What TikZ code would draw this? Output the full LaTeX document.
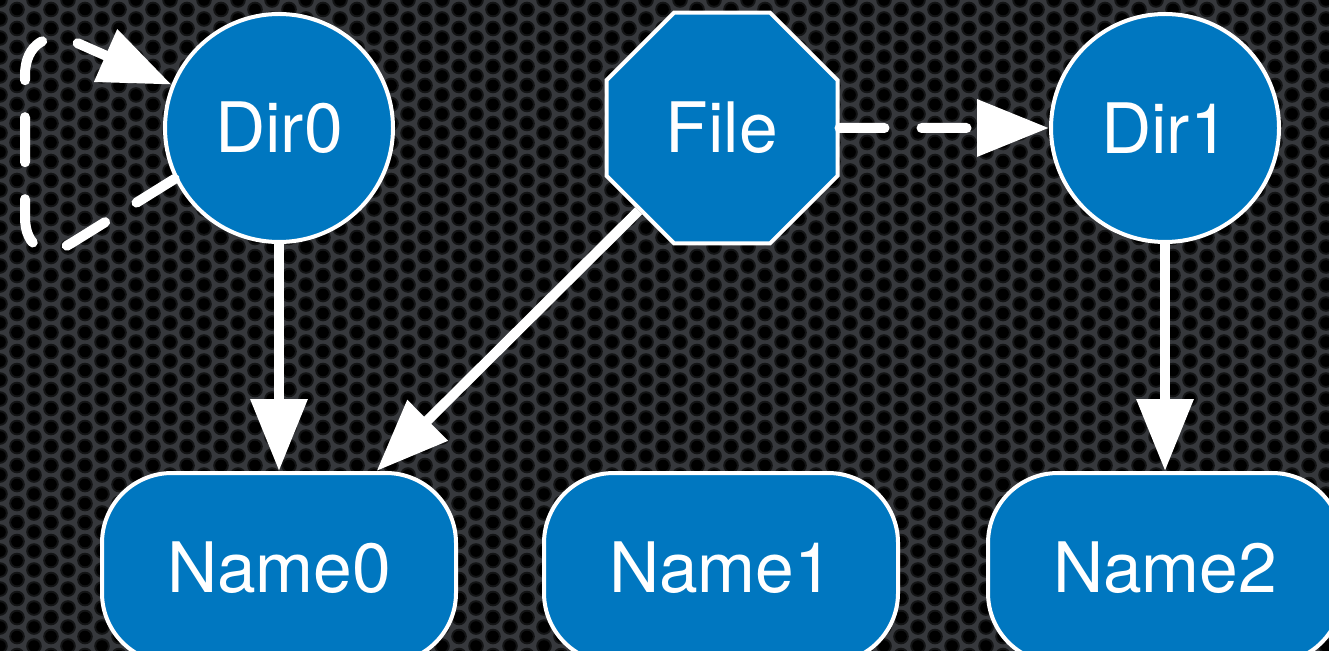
\documentclass[tikz,border=0pt]{standalone}
\usepackage{fontspec}
\setmainfont{TeX Gyre Heros}
\usetikzlibrary{arrows.meta}
\usetikzlibrary{shapes.geometric}
\definecolor{nodeblue}{RGB}{0,119,192}
\definecolor{platebg}{RGB}{54,56,60}
\tikzset{box/.style = {draw=white, line width=0.04cm, fill=nodeblue, text=white,
                       font=\fontsize{19.8}{24}\selectfont, inner sep=0pt},
         dirnode/.style = {box, circle, minimum size=2.28cm},
         filenode/.style = {box, regular polygon, regular polygon sides=8,
                            minimum size=2.5cm},
         namenode/.style = {box, rectangle, rounded corners=0.7cm,
                            minimum width=3.54cm, minimum height=1.9cm},
         link/.style = {draw=white, line width=0.1cm,
                        -{Triangle[length=0.72cm,width=0.55cm]}},
         dashlink/.style = {link, line cap=round, dash pattern=on 0.45cm off 0.37cm}}

\begin{document}
\begin{tikzpicture}
    \useasboundingbox (0, -6.5) rectangle (13.29, 0);
    % perforated plate
    \begin{scope}
      \clip (-0.1, -6.6) rectangle (13.4, 0.1);
      \fill [platebg] (-0.1, -6.6) rectangle (13.4, 0.1);
      \foreach \i in {0,...,79}
        \foreach \j in {0,...,35} {
          \fill [black!65!platebg] ({\i*0.17}, {-\j*0.19-mod(\i,2)*0.095}) circle (0.078);
          \fill [black] ({\i*0.17}, {-\j*0.19-mod(\i,2)*0.095}) circle (0.058);
        }
    \end{scope}

    \node [dirnode] (Dir0) at (2.79, -1.28) {Dir0};
    \node [filenode] (File) at (7.22, -1.28) {File};
    \node [dirnode] (Dir1) at (11.65, -1.28) {Dir1};
    \node [namenode] (Name0) at (2.79, -5.68) {Name0};
    \node [namenode] (Name1) at (7.21, -5.68) {Name1};
    \node [namenode] (Name2) at (11.65, -5.68) {Name2};

    \draw [link] (Dir0) -- (Name0);
    \draw [link] (File) -- (Name0);
    \draw [link] (Dir1) -- (Name2);
    \draw [dashlink] (File) -- (Dir1);
    \draw [dashlink, rounded corners=0.55cm] (Dir0.206) -- (0.25, -2.72)
      -- (0.25, -0.2) -- (Dir0.158);
  \end{tikzpicture}
\end{document}
